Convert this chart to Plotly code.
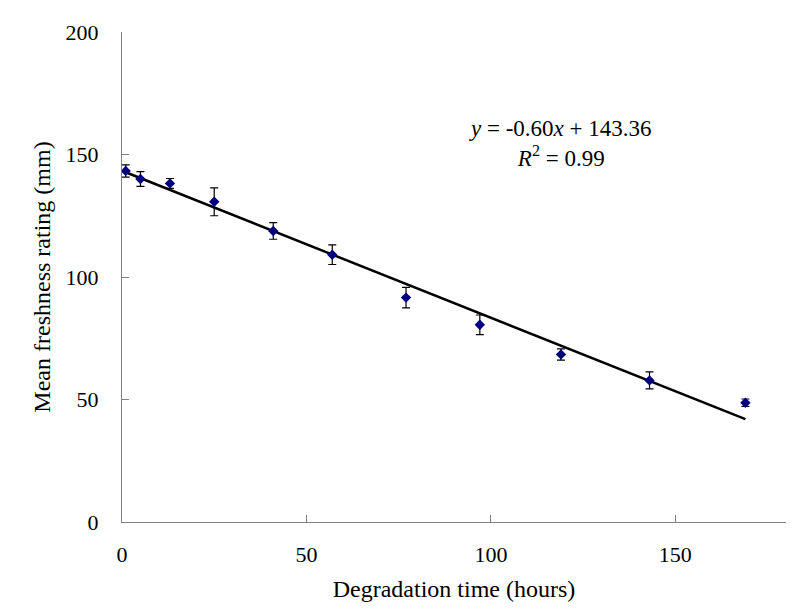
import plotly.graph_objects as go

hours = [1, 5, 13, 25, 41, 57, 77, 97, 119, 143, 169]
rating = [143.3, 140.0, 138.2, 130.7, 118.8, 109.1, 91.6, 80.5, 68.4, 57.8, 48.7]
rating_err = [2.5, 3.0, 2.0, 5.7, 3.4, 4.0, 4.2, 4.0, 2.3, 3.5, 1.5]

slope = -0.60
intercept = 143.36
fit_x = [hours[0], hours[-1]]
fit_y = [slope * x + intercept for x in fit_x]

x_ticks = [0, 50, 100, 150]
y_ticks = [0, 50, 100, 150, 200]

font_family = "Times New Roman"

fig = go.Figure()
fig.add_trace(go.Scatter(
    x=fit_x, y=fit_y, mode="lines",
    line=dict(color="black", width=2.5),
    showlegend=False, hoverinfo="skip",
))
fig.add_trace(go.Scatter(
    x=hours, y=rating, mode="markers",
    marker=dict(symbol="diamond", size=8, color="#000080"),
    error_y=dict(type="data", array=rating_err, visible=True,
                 color="black", thickness=1.2, width=4),
    showlegend=False,
))

fig.add_annotation(
    x=0.661, y=0.772, xref="paper", yref="paper",
    xanchor="center", yanchor="middle",
    text="<i>y</i> = -0.60<i>x</i> + 143.36<br><i>R</i><sup>2</sup> = 0.99",
    showarrow=False, align="center",
    font=dict(family=font_family, size=23, color="black"),
)

axis_common = dict(
    showline=True, linecolor="#808080", linewidth=1.2,
    ticks="inside", ticklen=7, tickcolor="#808080", tickwidth=1,
    showgrid=False, zeroline=False, automargin=False,
    tickfont=dict(family=font_family, size=22, color="black"),
)

fig.update_layout(
    width=800, height=614,
    margin=dict(l=122, r=14, t=32, b=92),
    paper_bgcolor="white", plot_bgcolor="white",
    font=dict(family=font_family),
    xaxis=dict(range=[0, 180], tickvals=x_ticks, ticklabelstandoff=12,
               title=dict(text="Degradation time (hours)", standoff=14,
                          font=dict(family=font_family, size=24, color="black")),
               **axis_common),
    yaxis=dict(range=[0, 200], tickvals=y_ticks, ticklabelstandoff=18,
               title=dict(text="Mean freshness rating (mm)", standoff=8,
                          font=dict(family=font_family, size=24, color="black")),
               **axis_common),
)

fig.write_html("out.html", config={"displayModeBar": False},
               post_script="document.body.style.margin='0';")
